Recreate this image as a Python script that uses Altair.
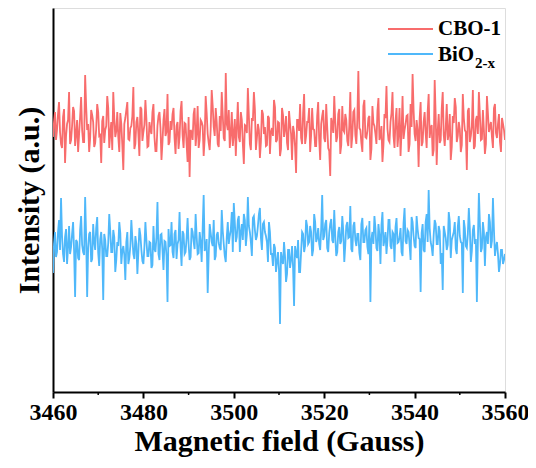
import altair as alt
import numpy as np
import pandas as pd

# Magnetic field sweep (Gauss) and EPR intensities (arbitrary units)
field_start = 3460
field_end = 3560

# CBO-1: samples on the even sweep points and on the points between them
cbo1_even = [
    255, 280, 262, 290, 248, 275, 229, 268, 300, 252,
    285, 246, 272, 258, 295, 250, 317, 262, 240, 282,
    270, 249, 288, 256, 229, 276, 262, 296, 244, 270,
    300, 255, 280, 240, 268, 222, 274, 290, 252, 266,
    305, 248, 275, 236, 283, 260, 292, 245, 270, 258,
    288, 241, 266, 280, 232, 272, 256, 298, 250, 262,
    284, 238, 270, 255, 291, 244, 268, 230, 215, 260,
    278, 246, 286, 252, 270, 236, 296, 258, 242, 302,
    265, 284, 248, 276, 300, 254, 319, 262, 244, 280,
    258, 236, 290, 250, 272, 228, 266, 304, 248, 274,
    300, 242, 268, 234, 282, 258, 246, 276, 238, 264,
    292, 250, 270, 236, 284, 255, 276, 242, 268, 232,
    260, 219, 272, 288, 248, 298, 256, 270, 240, 284,
    262, 246, 290, 232, 276, 254, 288, 244, 216, 268,
    296, 250, 278, 238, 286, 260, 272, 246, 300, 256,
    282, 248, 321, 262, 240, 292, 254, 274, 232, 286,
    266, 248, 294, 256, 230, 278, 306, 252, 270, 300,
    244, 284, 258, 236, 296, 262, 276, 240, 288, 318,
    258, 272, 225, 290, 250, 280, 244, 298, 264, 236,
    312, 227, 278, 252, 300, 246, 288, 258, 232, 276,
    294, 250, 270, 240, 298, 262, 222, 284, 256, 302,
    246, 276, 300, 252, 282, 238, 296, 260, 270, 244,
    288, 254, 278, 240, 268, 252,
]
cbo1_odd = [
    270, 252, 278, 260, 244, 283, 256, 272, 248, 266,
    281, 258, 240, 275, 262, 250, 286, 268, 254, 277,
    245, 263, 280, 257, 271, 249, 266, 284, 259, 242,
    274, 261, 255, 279, 247, 268, 282, 253, 264, 276,
    243, 270, 258, 285, 251, 267, 273, 246, 262, 280,
    255, 241, 276, 264, 250, 283, 260, 247, 271, 278,
    254, 266, 243, 281, 257, 269, 248, 275, 262, 252,
    284, 259, 244, 272, 266, 253, 279, 249, 263, 286,
    256, 270, 245, 261, 277, 251, 268, 282, 258, 246,
    273, 264, 255, 280, 248, 267, 259, 276, 242, 271,
    283, 254, 262, 250, 278, 265, 247, 274, 260, 256,
    285, 252, 269, 243, 277, 263, 249, 281, 258, 266,
    245, 272, 261, 254, 279, 248, 270, 284, 257, 263,
    246, 276, 253, 268, 282, 250, 265, 241, 274, 259,
    271, 255, 283, 247, 262, 278, 251, 267, 244, 280,
    257, 273, 264, 249, 286, 255, 261, 276, 243, 269,
    258, 281, 252, 266, 247, 274, 263, 250, 279, 256,
    271, 245, 284, 260, 253, 268, 277, 248, 265, 282,
    251, 262, 273, 246, 270, 259, 280, 254, 267, 242,
    276, 261, 249, 283, 257, 264, 252, 278, 245, 269,
    285, 256, 263, 247, 274, 260, 281, 250, 266, 243,
    272, 258, 277, 253, 262, 248, 279, 265, 255, 284,
    259, 268, 250, 274, 262,
]

# BiO2-x
bio2x_even = [
    119, 160, 140, 172, 194, 138, 155, 128, 166, 145,
    170, 95, 150, 132, 176, 140, 195, 95, 158, 130,
    168, 142, 175, 126, 160, 92, 152, 136, 178, 140,
    162, 120, 150, 170, 128, 146, 112, 160, 134, 172,
    138, 156, 118, 164, 142, 128, 170, 136, 150, 124,
    166, 140, 190, 132, 158, 122, 150, 90, 146, 170,
    134, 162, 148, 180, 126, 158, 140, 174, 132, 164,
    150, 178, 138, 160, 130, 197, 144, 99, 168, 150,
    172, 136, 160, 144, 182, 148, 130, 170, 156, 180,
    189, 150, 172, 140, 168, 178, 146, 195, 160, 136,
    176, 152, 166, 184, 142, 170, 156, 130, 160, 138,
    148, 120, 140, 68, 132, 150, 110, 142, 124, 146,
    86, 138, 152, 120, 160, 140, 172, 148, 166, 136,
    178, 150, 164, 142, 197, 156, 172, 140, 168, 152,
    182, 136, 160, 148, 176, 130, 166, 154, 186, 140,
    170, 146, 158, 132, 174, 150, 164, 138, 90, 160,
    176, 144, 168, 128, 180, 152, 138, 172, 146, 160,
    130, 174, 150, 164, 136, 184, 148, 160, 132, 170,
    146, 176, 154, 100, 168, 140, 178, 202, 150, 136,
    172, 148, 166, 128, 102, 160, 142, 180, 134, 156,
    170, 138, 176, 150, 99, 164, 144, 184, 130, 162,
    148, 90, 199, 140, 170, 126, 160, 178, 144, 194,
    136, 150, 120, 142, 128, 138,
]
bio2x_odd = [
    148, 135, 160, 142, 156, 130, 163, 145, 138, 158,
    141, 152, 134, 162, 147, 137, 155, 144, 160, 133,
    150, 164, 139, 153, 143, 158, 136, 149, 161, 140,
    155, 132, 146, 159, 141,
    137, 150, 128, 146, 154, 133, 148, 140, 157, 131,
    145, 152, 136, 149, 127, 143, 155, 138,
    157, 142, 151, 136, 163, 147, 140, 158, 133, 152,
    145, 161, 138, 154, 148, 135, 160, 143, 156, 139,
    150, 164, 141, 153, 137, 159, 146, 132, 157, 149,
    142, 161, 136, 155, 148, 162, 140,
    170, 155, 176, 160, 152, 172, 158, 166, 150, 174,
    162, 156, 178, 154, 168, 160, 150, 170,
    138, 126, 144, 130, 122, 140, 128, 136, 118, 142,
    132, 125, 146, 134, 120, 140,
    158, 146, 166, 150, 160, 142, 170, 154, 148, 163,
    152, 168, 144, 159, 173, 149, 156, 140, 165, 151,
    161, 147, 170, 155, 143, 166, 152, 158, 139, 168,
    150, 162, 145, 171, 153, 148, 164, 141, 157, 167,
    146, 160, 152, 172, 143, 158, 165, 149, 155, 140,
    169, 151, 162, 147, 175, 156, 144, 163, 153, 159,
    142, 170, 150, 164, 145, 157, 168, 148, 161, 139,
    166, 154, 147, 171, 152, 160, 143, 165, 156, 149,
    172, 146, 158, 163, 141, 167, 153, 150, 169, 144,
    160, 155, 148, 170, 151, 162, 145,
    138, 128, 142, 132,
]

series_names = ["CBO-1", "BiO2-x"]
series_colors = ["#F86C6C", "#4FB8FA"]
x_ticks = [3460, 3480, 3500, 3520, 3540, 3560]
x_minor = [3470, 3490, 3510, 3530, 3550]


def merge(even, odd):
    out = []
    for i, v in enumerate(even):
        out.append(v)
        if i < len(odd):
            out.append(odd[i])
    return out


frames = []
for name, even, odd in [(series_names[0], cbo1_even, cbo1_odd), (series_names[1], bio2x_even, bio2x_odd)]:
    vals = merge(even, odd)
    frames.append(pd.DataFrame({
        "field": np.linspace(field_start, field_end, len(vals)),
        "intensity": vals,
        "series": name,
        "order": range(len(vals)),
    }))
df = pd.concat(frames)

FONT = "Liberation Serif"
W, H = 452, 384

xscale = alt.Scale(domain=[field_start, field_end], nice=False, zero=False)
yscale = alt.Scale(domain=[0, 384], nice=False, zero=False)

lines = alt.Chart(df).mark_line(strokeWidth=1.8, clip=True).encode(
    x=alt.X("field:Q", scale=xscale,
            axis=alt.Axis(values=x_ticks, title="Magnetic field (Gauss)", format="d",
                          labelFont=FONT, labelFontSize=24, labelFontWeight="bold", labelColor="black",
                          titleFont=FONT, titleFontSize=30, titleFontWeight="bold", titleColor="black",
                          domainColor="black", domainWidth=2, tickColor="black", tickWidth=2, tickSize=6,
                          labelPadding=2, titlePadding=2, grid=False, labelFlush=False)),
    y=alt.Y("intensity:Q", scale=yscale,
            axis=alt.Axis(title="Intensity (a.u.)", labels=False, ticks=False, grid=False,
                          titleFont=FONT, titleFontSize=30, titleFontWeight="bold", titleColor="black",
                          domainColor="black", domainWidth=2, titlePadding=9)),
    color=alt.Color("series:N", scale=alt.Scale(domain=series_names, range=series_colors), legend=None),
    detail="series:N",
    order="order:Q",
)

minor = alt.Chart(pd.DataFrame({"m": x_minor})).mark_rule(color="black", strokeWidth=1.5).encode(
    x=alt.X("m:Q", scale=xscale),
    y=alt.value(H),
    y2=alt.value(H + 3),
)

# manual legend (top-right, no frame)
one = pd.DataFrame({"a": [0]})
leg_rule1 = alt.Chart(one).mark_rule(color=series_colors[0], strokeWidth=2).encode(
    x=alt.value(335), x2=alt.value(380), y=alt.value(21))
leg_rule2 = alt.Chart(one).mark_rule(color=series_colors[1], strokeWidth=2).encode(
    x=alt.value(335), x2=alt.value(380), y=alt.value(46))
leg_text1 = alt.Chart(one).mark_text(
    text="CBO-1", font=FONT, fontSize=21, fontWeight="bold", align="left", baseline="middle", color="black"
).encode(x=alt.value(385), y=alt.value(21))
leg_text2 = alt.Chart(one).mark_text(
    text="BiO", font=FONT, fontSize=21, fontWeight="bold", align="left", baseline="middle", color="black"
).encode(x=alt.value(385), y=alt.value(47))
leg_sub2 = alt.Chart(one).mark_text(
    text="2-x", font=FONT, fontSize=15, fontWeight="bold", align="left", baseline="middle", color="black"
).encode(x=alt.value(422), y=alt.value(55))

chart = alt.layer(lines, minor, leg_rule1, leg_rule2, leg_text1, leg_text2, leg_sub2).properties(
    width=W, height=H,
    autosize=alt.AutoSizeParams(type="none"),
    padding={"left": 45, "top": 0, "right": 23, "bottom": 68},
).configure_view(stroke="black", strokeWidth=2).configure(background="white")

chart.save("out.html", embed_options={"renderer": "svg", "actions": False})
